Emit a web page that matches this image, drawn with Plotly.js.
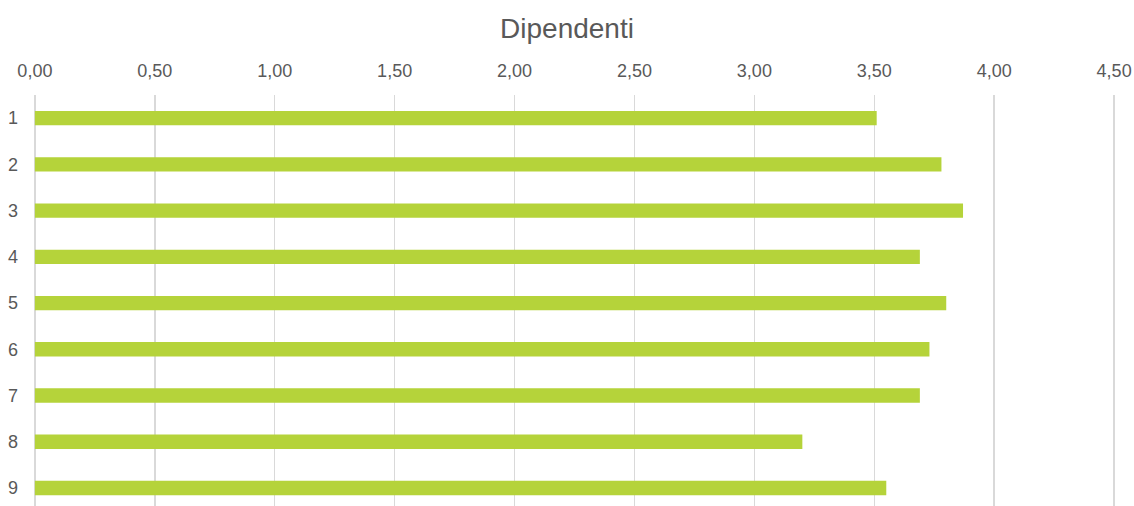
<!DOCTYPE html>
<html>
<head>
<meta charset="utf-8">
<script src="https://cdn.plot.ly/plotly-3.0.1.min.js"></script>
<style>
  html, body { margin: 0; padding: 0; background: #ffffff; }
  #chart { width: 1134px; height: 506px; }
</style>
</head>
<body>
<div id="chart"></div>
<script>
const categories = ["1", "2", "3", "4", "5", "6", "7", "8", "9"];
const values = [3.51, 3.78, 3.87, 3.69, 3.80, 3.73, 3.69, 3.20, 3.55];
const xTicks = [0, 0.5, 1, 1.5, 2, 2.5, 3, 3.5, 4, 4.5];
const chartTitle = "Dipendenti";

const textColor = "#595959";
const fontFamily = "Liberation Sans, Arial, sans-serif";

const trace = {
  type: "bar",
  orientation: "h",
  y: categories,
  x: values,
  width: 0.31,
  marker: { color: "#b5d33a", line: { width: 0 } },
  hoverinfo: "x+y"
};

const layout = {
  width: 1134,
  height: 506,
  margin: { l: 32, r: 17, t: 95, b: 0 },
  paper_bgcolor: "#ffffff",
  plot_bgcolor: "#ffffff",
  separators: ",.",
  showlegend: false,
  font: { family: fontFamily, color: textColor, size: 18 },
  title: {
    text: chartTitle,
    font: { family: fontFamily, size: 28, color: textColor },
    x: 0.5, xanchor: "center",
    y: 1 - 28 / 506, yanchor: "middle", yref: "container"
  },
  xaxis: {
    side: "top",
    range: [-0.012, 4.512],
    tickvals: xTicks,
    tickformat: ".2f",
    showgrid: true,
    gridcolor: "#d9d9d9",
    gridwidth: 1.5,
    zeroline: true,
    zerolinecolor: "#d9d9d9",
    zerolinewidth: 1.5,
    showline: false,
    ticks: "",
    ticklabelstandoff: 13,
    tickfont: { family: fontFamily, size: 18, color: textColor },
    fixedrange: true
  },
  yaxis: {
    type: "category",
    range: [8.39, -0.5],
    showgrid: false,
    zeroline: false,
    showline: false,
    ticks: "",
    ticklabelstandoff: 13,
    tickfont: { family: fontFamily, size: 18, color: textColor },
    fixedrange: true
  }
};

Plotly.newPlot("chart", [trace], layout, { displayModeBar: false, staticPlot: true });
</script>
</body>
</html>
